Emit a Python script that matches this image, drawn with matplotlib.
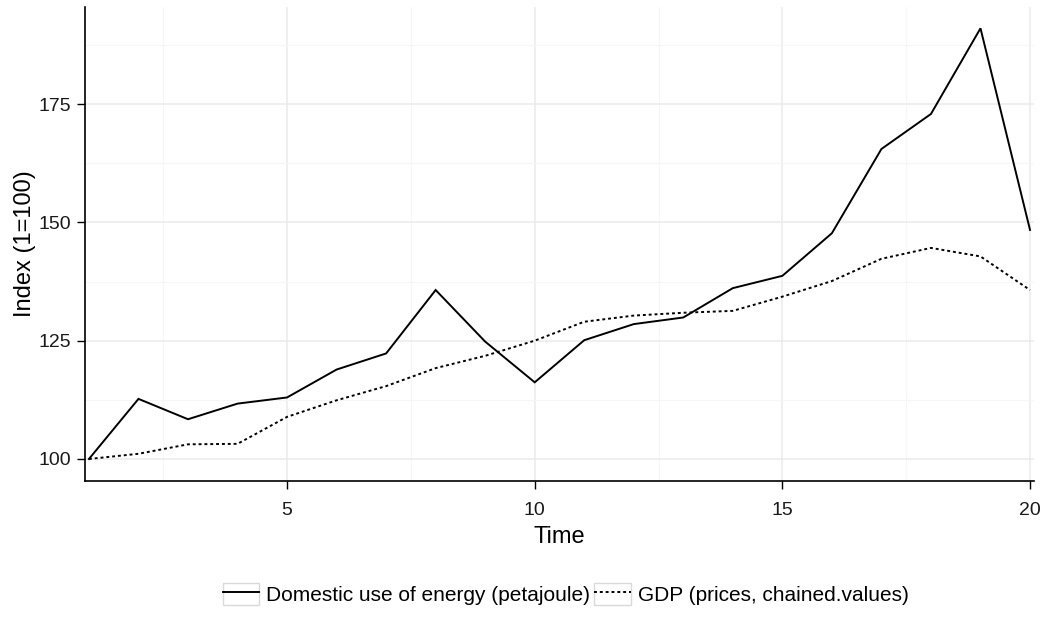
import numpy as np
import matplotlib
matplotlib.use("Agg")
import matplotlib.pyplot as plt
from matplotlib.legend_handler import HandlerLine2D
from matplotlib.patches import Rectangle
from matplotlib.ticker import MultipleLocator

plt.rcParams['font.family'] = ['Liberation Sans', 'DejaVu Sans']

# data
time = list(range(1, 21))
energy = [100, 112.7, 108.4, 111.7, 113.0, 118.9, 122.3, 135.7, 124.8, 116.2,
          125.1, 128.5, 129.9, 136.1, 138.7, 147.7, 165.5, 172.9, 191.0, 148.4]
gdp = [100, 101.1, 103.1, 103.2, 108.9, 112.4, 115.4, 119.2, 121.8, 125.0,
       129.0, 130.3, 130.9, 131.3, 134.3, 137.6, 142.3, 144.6, 142.8, 135.7]
labels = ["Domestic use of energy (petajoule)", "GDP (prices, chained.values)"]


class BoxedLineHandler(HandlerLine2D):
    """legend key with a light grey box around the line sample"""
    def create_artists(self, legend, orig_handle, xdescent, ydescent,
                       width, height, fontsize, trans):
        artists = super().create_artists(legend, orig_handle, xdescent, ydescent,
                                         width, height, fontsize, trans)
        box = Rectangle((-xdescent, -ydescent), width, height, transform=trans,
                        facecolor='white', edgecolor='#d9d9d9', lw=1.0, zorder=0)
        return [box] + artists


fig = plt.figure(figsize=(10.44, 6.2), dpi=100)
ax = fig.add_axes([0.0814, 0.2242, 0.9090, 0.7645])

l1, = ax.plot(time, energy, color='black', lw=1.4, solid_joinstyle='miter')
l2, = ax.plot(time, gdp, color='black', lw=1.4, linestyle=(0, (1.5, 1.5)))

ax.set_xlim(0.92, 20.08)
ax.set_ylim(95.35, 195.5)
ax.xaxis.set_major_locator(MultipleLocator(5))
ax.xaxis.set_minor_locator(MultipleLocator(2.5))
ax.yaxis.set_major_locator(MultipleLocator(25))
ax.yaxis.set_minor_locator(MultipleLocator(12.5))

ax.grid(which='major', color='#ebebeb', lw=1.1)
ax.grid(which='minor', color='#f6f6f6', lw=0.8)
ax.set_axisbelow(True)

for side in ['top', 'right']:
    ax.spines[side].set_visible(False)
for side in ['left', 'bottom']:
    ax.spines[side].set_color('black')
    ax.spines[side].set_linewidth(1.2)

ax.tick_params(which='major', length=6, width=1, color='black',
               labelsize=14, labelcolor='#1a1a1a')
ax.tick_params(axis='x', pad=9)
ax.tick_params(axis='y', pad=4)
ax.tick_params(which='minor', length=0)

ax.set_xlabel("Time", fontsize=17, labelpad=5)
ax.set_ylabel("Index (1=100)", fontsize=17, labelpad=2)

fig.legend([l1, l2], labels, loc='center', bbox_to_anchor=(0.542, 0.042),
           ncol=2, frameon=False, fontsize=15, handlelength=1.75,
           handleheight=1.3, handletextpad=0.35, columnspacing=0.2,
           handler_map={matplotlib.lines.Line2D: BoxedLineHandler()})

fig.savefig("out.png", dpi=100)
